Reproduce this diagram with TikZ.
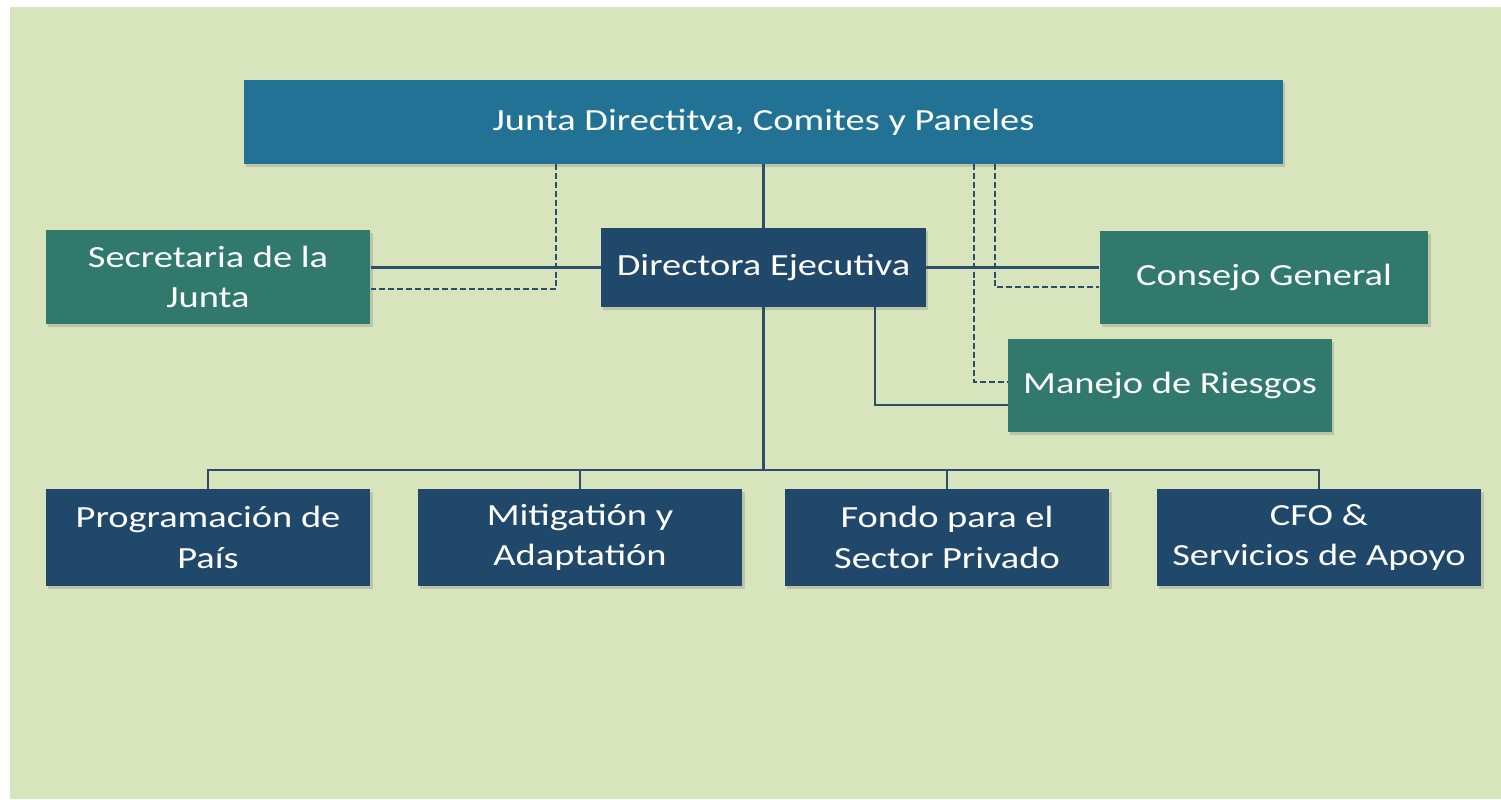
\documentclass[tikz,border=0pt]{standalone}
\usepackage{fontspec}
\setmainfont{Carlito}[FakeStretch=1.25]
\usepackage{tikz}
\usetikzlibrary{calc, positioning, shadows}
\definecolor{panelgreen}{RGB}{216,228,188}
\definecolor{boardblue}{RGB}{33,114,148}
\definecolor{navyblue}{RGB}{31,72,107}
\definecolor{tealgreen}{RGB}{49,121,108}
\definecolor{linkblue}{RGB}{44,78,108}
\tikzset{
  box/.style={rectangle, text=white, align=center, inner sep=2pt,
    font=\fontsize{17.5}{23}\selectfont,
    drop shadow={shadow xshift=1.2pt, shadow yshift=-1.5pt, opacity=0.3}},
  boardbox/.style={box, fill=boardblue, minimum width=20.78cm, minimum height=1.68cm},
  navybox/.style={box, fill=navyblue, minimum width=6.5cm, minimum height=1.94cm},
  tealbox/.style={box, fill=tealgreen, minimum width=6.5cm, minimum height=1.88cm},
  link/.style={draw=linkblue, line width=1.6pt},
  dottedlink/.style={link, dash pattern=on 3.4pt off 1.7pt},
}

\begin{document}
\begin{tikzpicture}[x=0.02cm, y=-0.02cm]

% Panel
\fill[white] (0,0) rectangle (1501,799);
\fill[panelgreen] (10,7) rectangle (1501,799);
\useasboundingbox (0,0) rectangle (1501,799);

% Board
\node[boardbox] (junta) at (763.5,122) {Junta Directitva, Comites y Paneles};

% Second level
\node[navybox, minimum height=1.58cm] (directora) at (763.5,267.5) {Directora Ejecutiva};
\node[tealbox] (secretaria) at (208,277) {Secretaria de la\\Junta};
\node[tealbox, minimum width=6.58cm, minimum height=1.86cm] (consejo) at (1264,277.5) {Consejo General};
\node[tealbox, minimum width=6.48cm, minimum height=1.86cm] (manejo) at (1170,385.5) {Manejo de Riesgos};

% Departments
\node[navybox] (prog) at (208,537.5) {Programación de\\País};
\node[navybox] (miti) at (580,537.5) {Mitigatión y\\Adaptatión};
\node[navybox] (fondo) at (947,537.5) {Fondo para el\\Sector Privado};
\node[navybox] (cfo) at (1319,537.5) {CFO \&\\Servicios de Apoyo};

% Branch points
\coordinate (secdash) at (556,164);
\coordinate (condash) at (995,164);
\coordinate (mandash) at (974,164);
\coordinate (manlink) at (875,307);
\coordinate (bus) at (763.5,470);

% Solid lines
\draw[link] (junta) -- (directora);
\draw[link] (secretaria.east |- directora.west) -- (directora.west);
\draw[link] (directora.east) -- (directora.east -| consejo.west);
\draw[link] (manlink) |- ([yshift=-0.39cm]manejo.west);
\draw[link] (directora) -- (bus);
\foreach \dept in {prog,miti,fondo,cfo}
  \draw[link] (bus) -| (\dept.north);

% Dashed lines
\draw[dottedlink] (secdash) |- ([yshift=-0.24cm]secretaria.east);
\draw[dottedlink] (condash) |- ([yshift=-0.19cm]consejo.west);
\draw[dottedlink] (mandash) |- ([yshift=0.07cm]manejo.west);

\end{tikzpicture}
\end{document}
